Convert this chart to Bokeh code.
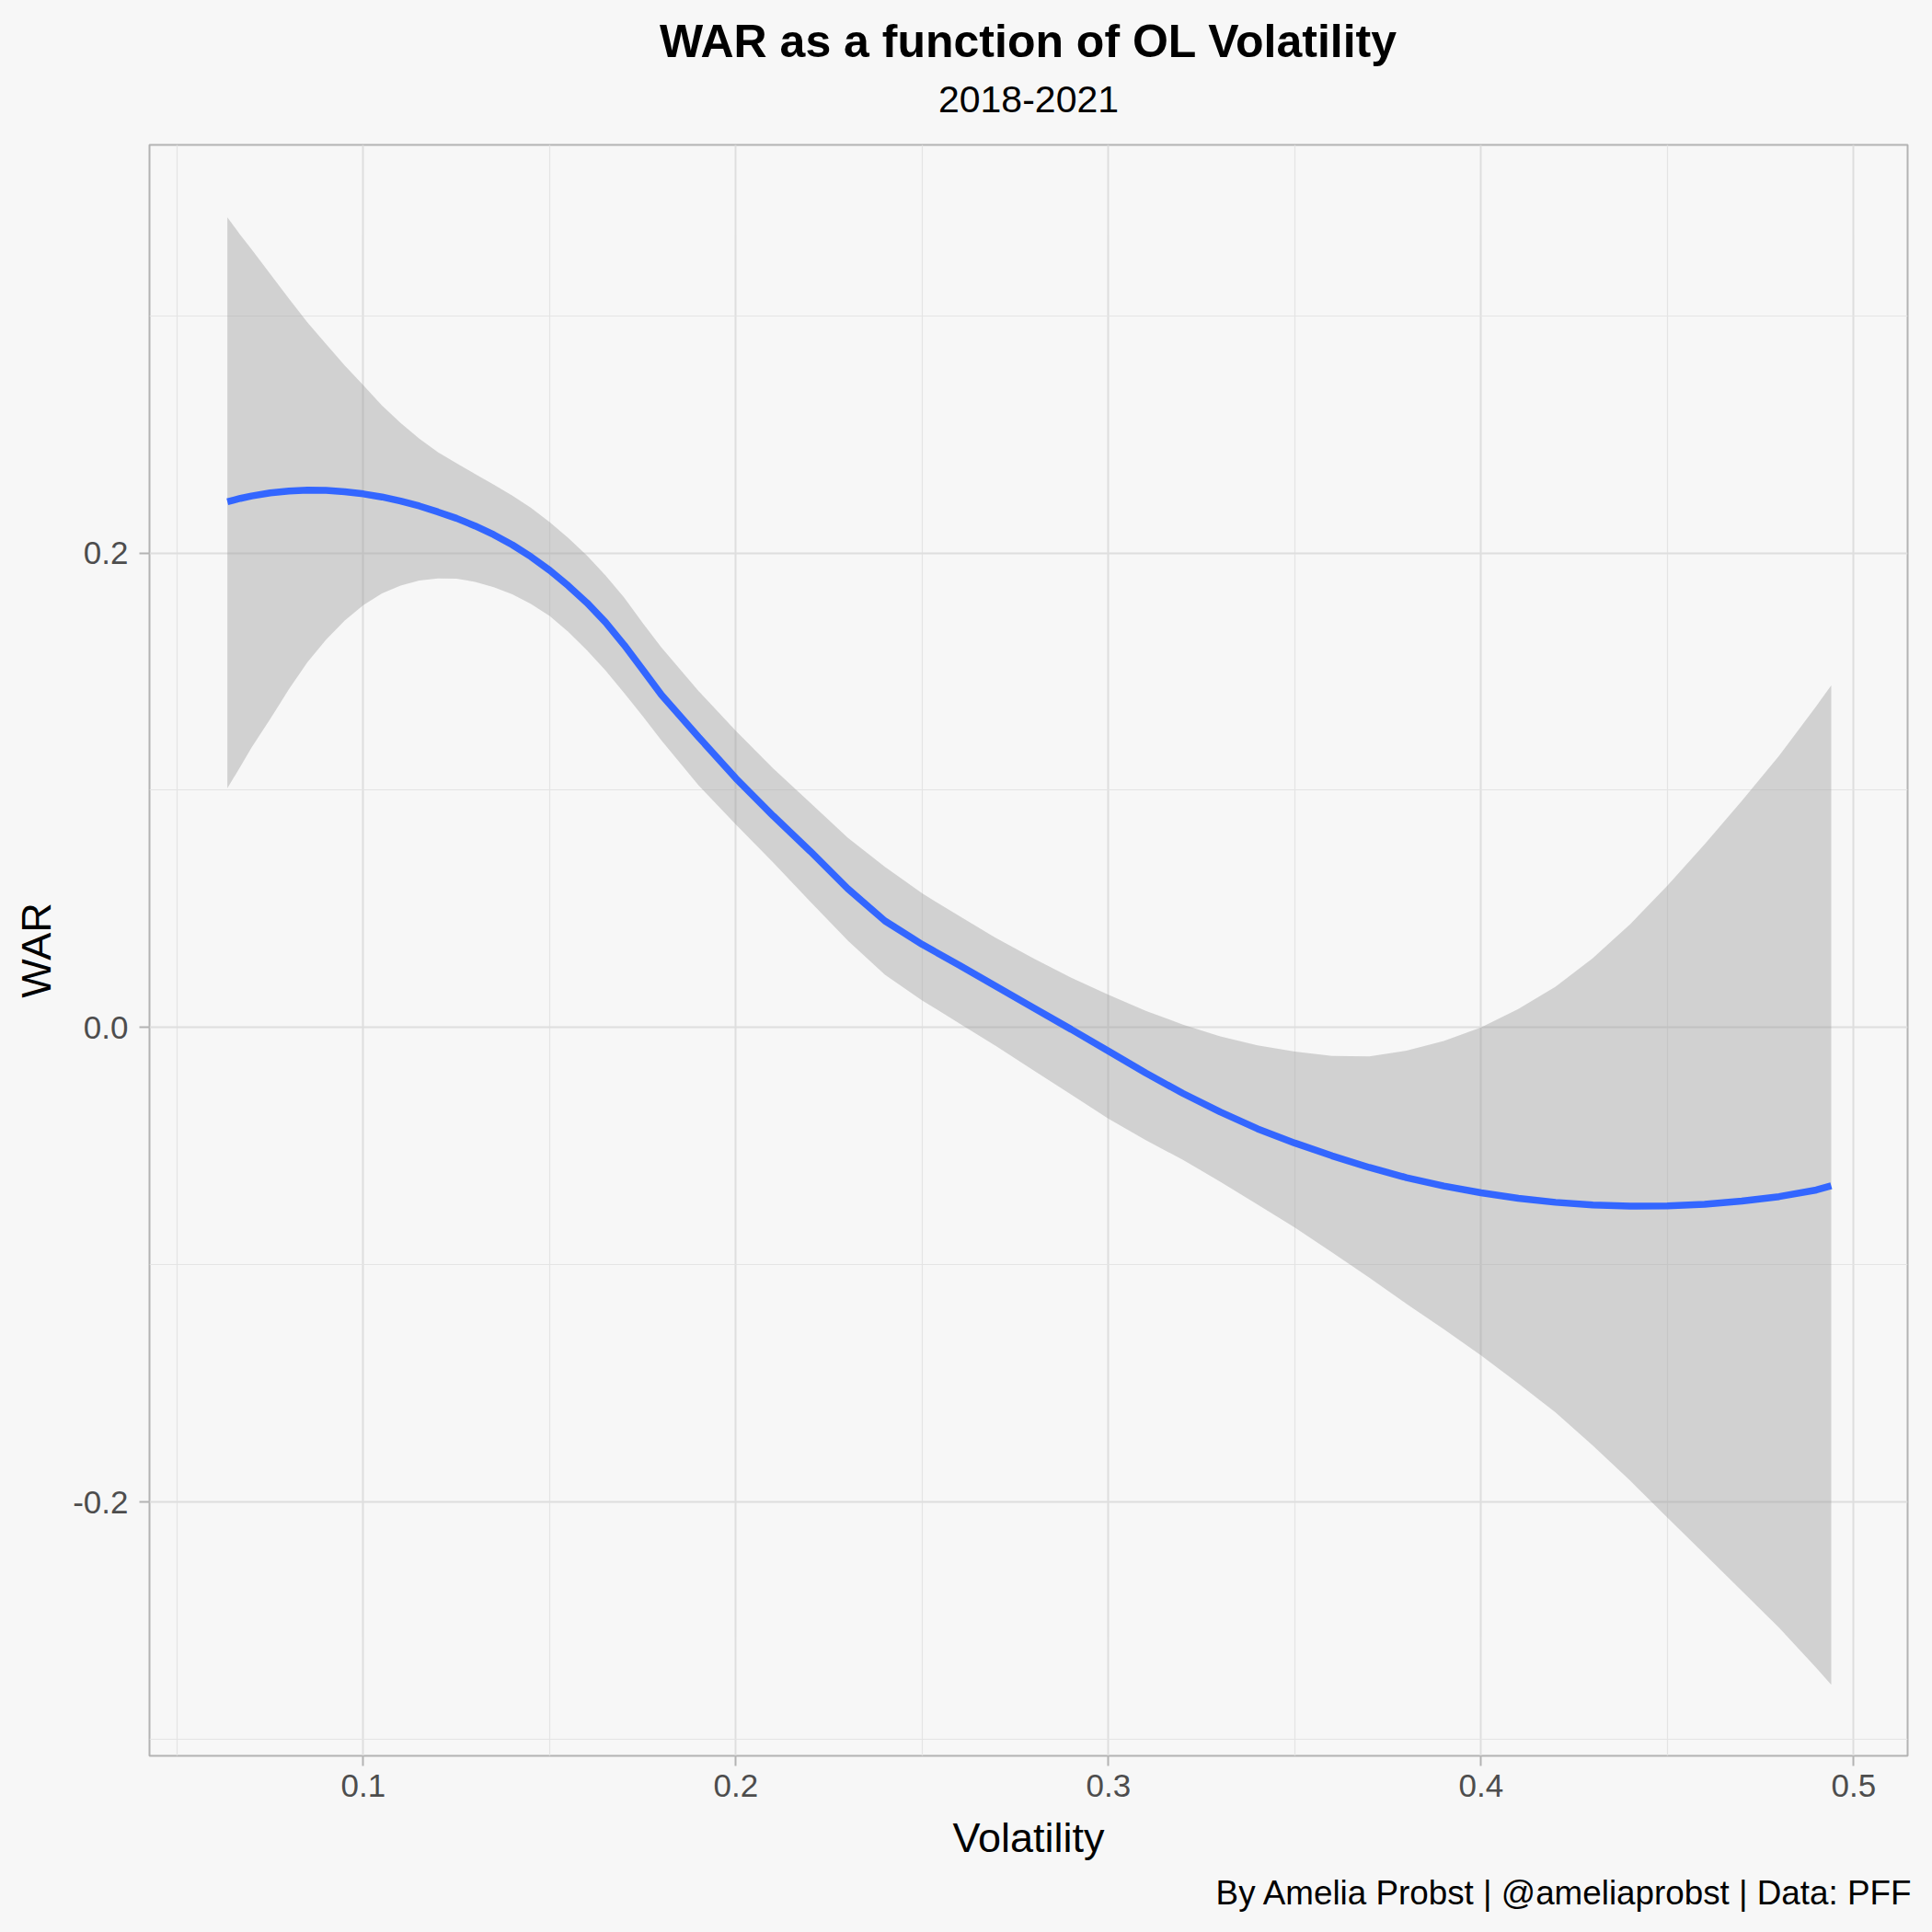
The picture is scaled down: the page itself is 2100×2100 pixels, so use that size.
from bokeh.plotting import figure
from bokeh.models import Range1d, FixedTicker, PrintfTickFormatter, Title
from bokeh.embed import file_html
from bokeh.resources import INLINE

# ---- data (loess fit with 95% band) ----
volatility = [0.0635, 0.067, 0.07, 0.075, 0.08, 0.085, 0.09, 0.095, 0.10, 0.105, 0.11, 0.115,
              0.12, 0.125, 0.13, 0.135, 0.14, 0.145, 0.15, 0.155, 0.16, 0.165, 0.17, 0.175,
              0.18, 0.19, 0.20, 0.21, 0.22, 0.23, 0.24, 0.25, 0.26, 0.27, 0.28, 0.29, 0.30,
              0.31, 0.32, 0.33, 0.34, 0.35, 0.36, 0.37, 0.38, 0.39, 0.40, 0.41, 0.42, 0.43,
              0.44, 0.45, 0.46, 0.47, 0.48, 0.49, 0.494]
war_fit = [0.2216, 0.2230, 0.2240, 0.2253, 0.2261, 0.2265, 0.2264, 0.2258, 0.2249, 0.2236,
           0.2219, 0.2198, 0.2173, 0.2146, 0.2114, 0.2077, 0.2034, 0.1984, 0.1927, 0.1862,
           0.1790, 0.1708, 0.1612, 0.1508, 0.1402, 0.1224, 0.1050, 0.0892, 0.0742, 0.0585,
           0.0449, 0.0350, 0.0262, 0.0172, 0.0082, -0.0008, -0.0100, -0.0192, -0.0278,
           -0.0356, -0.0427, -0.0487, -0.0541, -0.0590, -0.0633, -0.0668, -0.0697, -0.0720,
           -0.0737, -0.0748, -0.0753, -0.0752, -0.0745, -0.0732, -0.0713, -0.0685, -0.0667]
war_upper = [0.3415, 0.3340, 0.3280, 0.3176, 0.3072, 0.2972, 0.2880, 0.2790, 0.2707, 0.2622,
             0.2548, 0.2482, 0.2425, 0.2378, 0.2333, 0.2288, 0.2242, 0.2190, 0.2130, 0.2063,
             0.1990, 0.1905, 0.1812, 0.1705, 0.1602, 0.1418, 0.1250, 0.1092, 0.0946, 0.0800,
             0.0677, 0.0565, 0.0469, 0.0375, 0.0290, 0.0210, 0.0138, 0.0070, 0.0012, -0.0038,
             -0.0075, -0.0102, -0.0120, -0.0122, -0.0098, -0.0057, 0.0000, 0.0078, 0.0172,
             0.0292, 0.0435, 0.0597, 0.0772, 0.0955, 0.1145, 0.1355, 0.1442]
war_lower = [0.1008, 0.1100, 0.1180, 0.1300, 0.1425, 0.1540, 0.1635, 0.1715, 0.1780, 0.1830,
             0.1863, 0.1884, 0.1893, 0.1892, 0.1878, 0.1856, 0.1826, 0.1785, 0.1735, 0.1668,
             0.1590, 0.1505, 0.1410, 0.1312, 0.1210, 0.1020, 0.0855, 0.0695, 0.0530, 0.0367,
             0.0222, 0.0114, 0.0017, -0.0080, -0.0182, -0.0283, -0.0385, -0.0475, -0.0558,
             -0.0650, -0.0746, -0.0843, -0.0948, -0.1055, -0.1165, -0.1272, -0.1382, -0.1500,
             -0.1623, -0.1762, -0.1910, -0.2066, -0.2220, -0.2375, -0.2530, -0.2700, -0.2770]

x_major = [0.1, 0.2, 0.3, 0.4, 0.5]
x_minor = [0.05, 0.15, 0.25, 0.35, 0.45]
y_major = [-0.2, 0.0, 0.2]
y_minor = [-0.3, -0.1, 0.1, 0.3]

title_text = "WAR as a function of OL Volatility"
subtitle_text = "2018-2021"
caption_text = "By Amelia Probst | @ameliaprobst | Data: PFF"
x_label = "Volatility"
y_label = "WAR"

FONT = "Liberation Sans"
BG = "#F7F7F7"

p = figure(width=2096, height=2096, output_backend="svg", toolbar_location=None,
           title=title_text,
           x_range=Range1d(0.0426, 0.5145), y_range=Range1d(-0.307, 0.372),
           min_border_left=162, min_border_right=23, min_border_top=157,
           min_border_bottom=188)

p.background_fill_color = BG
p.border_fill_color = BG
p.outline_line_color = "#B3B3B3"
p.outline_line_width = 2

# main title (outermost)
p.title.text_font = FONT
p.title.text_font_size = "50px"
p.title.text_font_style = "bold"
p.title.text_color = "black"
p.title.align = "center"
p.title.standoff = -34

# subtitle (inner, next to the panel)
p.add_layout(Title(text=subtitle_text, align="center", text_font=FONT,
                   text_font_size="41px", text_font_style="normal",
                   text_color="black", standoff=72), "above")

# ticks / grid
xt = FixedTicker(ticks=x_major, minor_ticks=x_minor)
yt = FixedTicker(ticks=y_major, minor_ticks=y_minor)
p.xaxis.ticker = xt
p.yaxis.ticker = yt
p.xgrid.ticker = xt
p.ygrid.ticker = yt
p.xaxis.formatter = PrintfTickFormatter(format="%.1f")
p.yaxis.formatter = PrintfTickFormatter(format="%.1f")

for g in (p.xgrid, p.ygrid):
    g.grid_line_color = "#DEDEDE"
    g.grid_line_width = 2
    g.minor_grid_line_color = "#E4E4E4"
    g.minor_grid_line_width = 1.2

for ax in (p.xaxis, p.yaxis):
    ax.axis_line_color = None
    ax.major_tick_line_color = "#B3B3B3"
    ax.major_tick_line_width = 2
    ax.major_tick_in = 0
    ax.major_tick_out = 11
    ax.minor_tick_line_color = None
    ax.major_label_text_font = FONT
    ax.major_label_text_font_size = "35px"
    ax.major_label_text_color = "#4D4D4D"
    ax.axis_label_text_font = FONT
    ax.axis_label_text_font_size = "45px"
    ax.axis_label_text_font_style = "normal"
    ax.axis_label_text_color = "black"

p.xaxis.axis_label = x_label
p.yaxis.axis_label = y_label
p.xaxis.major_label_standoff = 9
p.yaxis.major_label_standoff = 12
p.xaxis.axis_label_standoff = 16
p.yaxis.axis_label_standoff = 11

# ribbon + fit line
p.varea(x=volatility, y1=war_lower, y2=war_upper, fill_color="#999999", fill_alpha=0.4)
p.line(x=volatility, y=war_fit, line_color="#3366FF", line_width=7.5)

# caption
p.add_layout(Title(text=caption_text, align="right", text_font=FONT,
                   text_font_size="36.8px", text_font_style="normal",
                   text_color="black", standoff=19, offset=-6), "below")

html = file_html(p, INLINE).replace("<body>", '<body style="background:#F7F7F7;">')
open("out.html", "w").write(html)
